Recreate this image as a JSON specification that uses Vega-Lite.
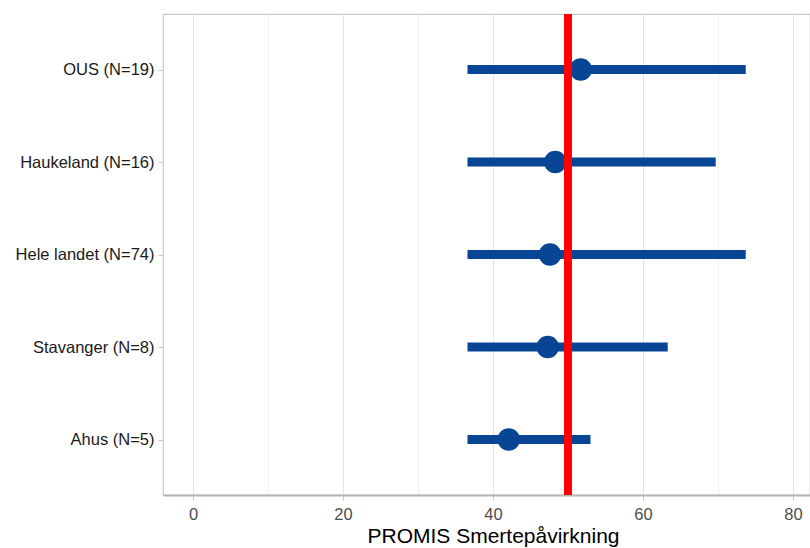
{
  "$schema": "https://vega.github.io/schema/vega-lite/v6.json",
  "width": 647,
  "height": 481,
  "autosize": {"type": "none"},
  "padding": {"left": 163, "top": 14, "right": 0, "bottom": 53},
  "background": "white",
  "config": {
    "font": "Liberation Sans",
    "view": {"stroke": "#c8c8c8", "strokeWidth": 1.2}
  },
  "datasets": {
    "rows": [
      {"sykehus": "OUS (N=19)", "mid": 51.7, "lo": 36.6, "hi": 73.7},
      {"sykehus": "Haukeland (N=16)", "mid": 48.3, "lo": 36.6, "hi": 69.7},
      {"sykehus": "Hele landet (N=74)", "mid": 47.6, "lo": 36.6, "hi": 73.7},
      {"sykehus": "Stavanger (N=8)", "mid": 47.3, "lo": 36.6, "hi": 63.3},
      {"sykehus": "Ahus (N=5)", "mid": 42.1, "lo": 36.6, "hi": 53.0}
    ],
    "ref": [{"x": 50}]
  },
  "layer": [
    {
      "data": {"name": "rows"},
      "mark": {"type": "rule", "color": "#084594", "strokeWidth": 9},
      "encoding": {
        "y": {
          "field": "sykehus", "type": "nominal",
          "sort": ["OUS (N=19)", "Haukeland (N=16)", "Hele landet (N=74)", "Stavanger (N=8)", "Ahus (N=5)"],
          "scale": {"type": "point", "padding": 0.6},
          "axis": {
            "title": null, "labelFontSize": 16.5, "labelColor": "#1a1a1a",
            "labelPadding": 4, "tickSize": 5, "tickColor": "#c8c8c8",
            "gridColor": "#e6e6e6", "gridWidth": 1, "domain": false
          }
        },
        "x": {
          "field": "lo", "type": "quantitative",
          "scale": {"domain": [-4, 82.27], "nice": false, "zero": false},
          "axis": {
            "title": "PROMIS Smertepåvirkning", "titleFontSize": 21, "titleFontWeight": "normal",
            "titleColor": "#000000", "titlePadding": 3, "titleX": 330,
            "values": [0, 10, 20, 30, 40, 50, 60, 70, 80],
            "labelExpr": "datum.value % 20 === 0 ? datum.label : ''",
            "labelFontSize": 16.5, "labelColor": "#4d4d4d", "labelPadding": 6,
            "tickSize": 5,
            "tickColor": {"condition": {"test": "datum.value % 20 === 0", "value": "#c8c8c8"}, "value": "transparent"},
            "gridColor": {"condition": {"test": "datum.value % 20 === 0", "value": "#e3e3e3"}, "value": "#f0f0f0"},
            "domainColor": "#b3b3b3", "domainWidth": 2
          }
        },
        "x2": {"field": "hi"}
      }
    },
    {
      "data": {"name": "rows"},
      "mark": {"type": "point", "filled": true, "color": "#084594", "opacity": 1, "size": 500},
      "encoding": {
        "y": {"field": "sykehus", "type": "nominal", "sort": ["OUS (N=19)", "Haukeland (N=16)", "Hele landet (N=74)", "Stavanger (N=8)", "Ahus (N=5)"]},
        "x": {"field": "mid", "type": "quantitative"}
      }
    },
    {
      "data": {"name": "ref"},
      "mark": {"type": "rule", "color": "#ff0000", "strokeWidth": 8},
      "encoding": {"x": {"field": "x", "type": "quantitative"}}
    }
  ]
}
